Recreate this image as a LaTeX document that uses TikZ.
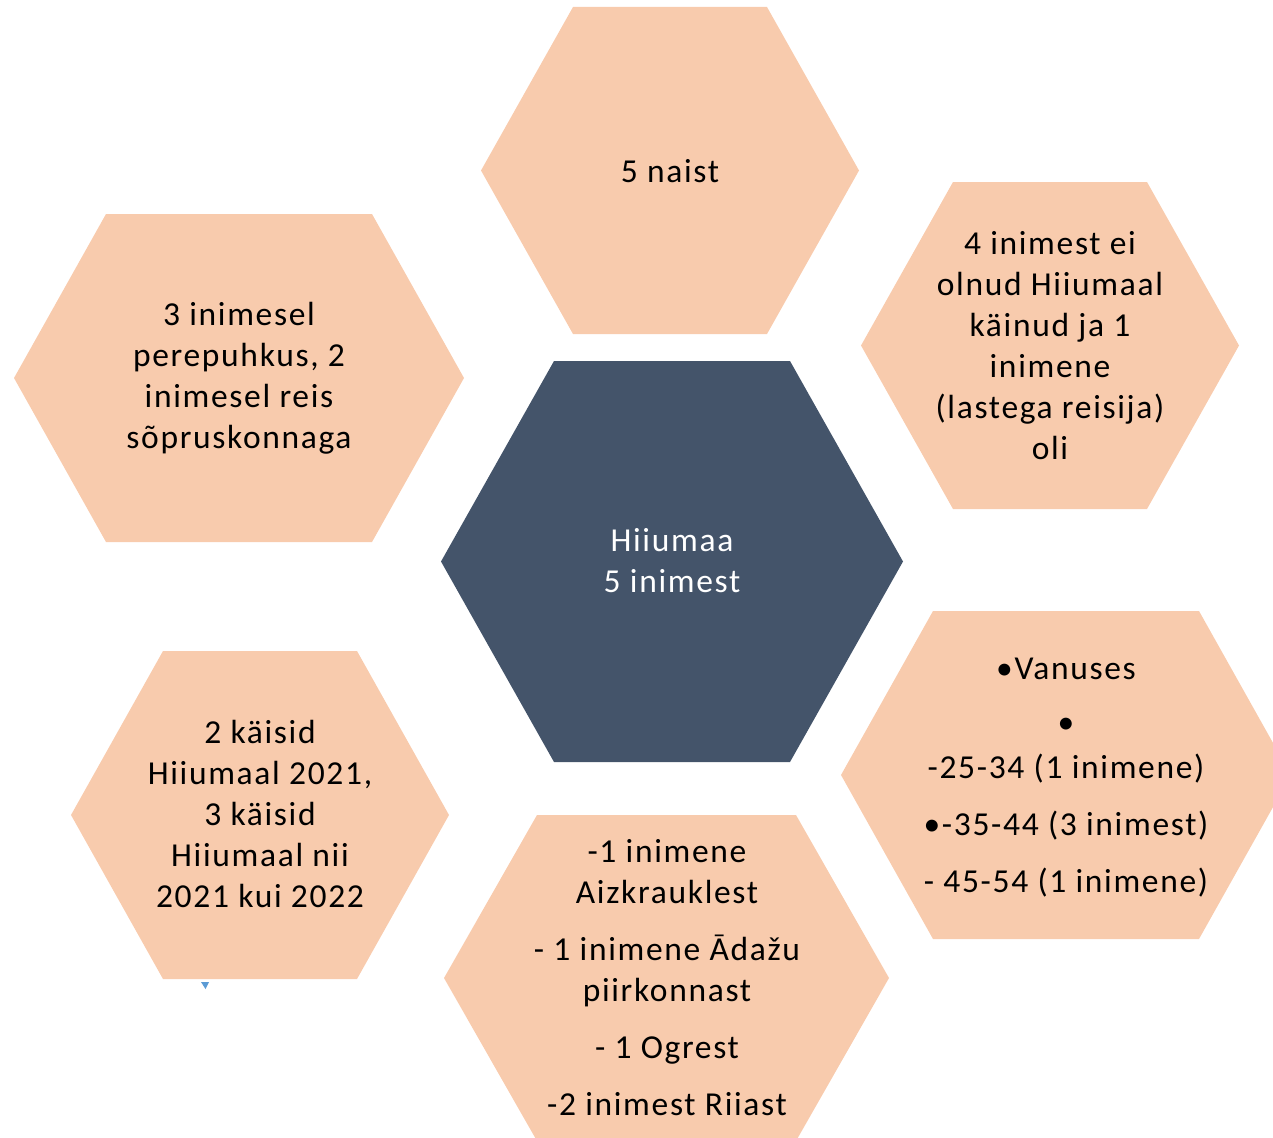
\documentclass[tikz,border=0pt]{standalone}
\usepackage{fontspec}
\setmainfont{Carlito}[LetterSpace=5]
\definecolor{peach}{HTML}{F8CBAD}
\definecolor{slate}{HTML}{44546A}
\definecolor{tickblue}{HTML}{5B9BD5}
\tikzset{
  hextext/.style={align=center, font=\fontsize{33.5}{41}\selectfont, text=black, inner sep=0pt},
  centertext/.style={hextext, text=white}
}
% cx, cy, half width, half height, inset of top corners, colour
\newcommand\hexshape[6]{%
  \fill[#6] ({#1-#3},#2) -- ({#1-#3+#5},{#2-#4}) -- ({#1+#3-#5},{#2-#4})
    -- ({#1+#3},#2) -- ({#1+#3-#5},{#2+#4}) -- ({#1-#3+#5},{#2+#4}) -- cycle;}
\begin{document}
\begin{tikzpicture}[x=1pt,y=-1pt]
\useasboundingbox (0,0) rectangle (1273,1137);
\clip (0,0) rectangle (1273,1137);

% hexagons
\hexshape{670}{170.5}{189}{163.5}{92}{peach}
\hexshape{1050}{345.5}{189}{163.5}{92}{peach}
\hexshape{239}{378}{225}{164}{92}{peach}
\hexshape{672}{561.5}{231}{200.5}{113}{slate}
\hexshape{1066}{775}{225}{164}{92}{peach}
\hexshape{260}{815}{189}{164}{92}{peach}
\hexshape{666.5}{978}{222.5}{163}{93}{peach}

% small blue mark
\fill[tickblue] (201,982) -- (209,982) -- (205.5,989) -- cycle;

% texts
\node[centertext] (center) at (672,561) {Hiiumaa\\5 inimest};
\node[hextext] (top) at (670,171) {5 naist};
\node[hextext] (topright) at (1050,346) {4 inimest ei\\olnud Hiiumaal\\käinud ja 1\\inimene\\(lastega reisija)\\oli};
\node[hextext] (topleft) at (239,378) {3 inimesel\\perepuhkus, 2\\inimesel reis\\sõpruskonnaga};
\node[hextext] (bottomleft) at (260,814) {2 käisid\\Hiiumaal 2021,\\3 käisid\\Hiiumaal nii\\2021 kui 2022};
\node[hextext] (right) at (1066,778) {•Vanuses\\[13pt]•\\[4pt]-25-34 (1 inimene)\\[16pt]•-35-44 (3 inimest)\\[16pt]- 45-54 (1 inimene)};
\node[hextext] (bottom) at (667,978) {-1 inimene\\Aizkrauklest\\[16pt]- 1 inimene Ādažu\\piirkonnast\\[16pt]- 1 Ogrest\\[16pt]-2 inimest Riiast};
\end{tikzpicture}
\end{document}
